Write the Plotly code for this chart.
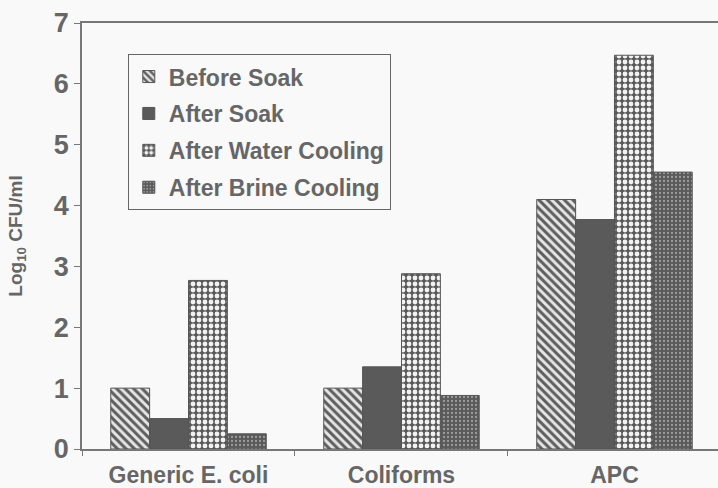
import plotly.graph_objects as go

categories = ["Generic E. coli", "Coliforms", "APC"]
series_names = ["Before Soak", "After Soak", "After Water Cooling", "After Brine Cooling"]
before_soak = [1.0, 1.0, 4.1]
after_soak = [0.5, 1.35, 3.77]
after_water = [2.77, 2.88, 6.47]
after_brine = [0.25, 0.88, 4.55]
y_ticks = [0, 1, 2, 3, 4, 5, 6, 7]

values = [before_soak, after_soak, after_water, after_brine]
patterns = [
    dict(shape="\\", fgcolor="#5e5e5e", bgcolor="#e6e6e6", size=6, solidity=0.5, fillmode="replace"),
    dict(shape="", fgcolor="#5a5a5a", bgcolor="#5a5a5a"),
    dict(shape=".", fgcolor="#f2f2f2", bgcolor="#5a5a5a", size=6, solidity=0.5, fillmode="replace"),
    dict(shape=".", fgcolor="#9c9c9c", bgcolor="#5a5a5a", size=4, solidity=0.25, fillmode="replace"),
]
colors = ["#e6e6e6", "#5a5a5a", "#5a5a5a", "#5a5a5a"]

fig = go.Figure()
for i, (name, vals) in enumerate(zip(series_names, values)):
    fig.add_trace(go.Bar(
        x=categories, y=vals, name=name,
        legendgroup=name,
        marker=dict(color=colors[i], pattern=patterns[i], line=dict(color="#555555", width=1)),
    ))

font_family = "Liberation Sans, Arial, sans-serif"
fig.update_layout(
    width=718, height=488,
    margin=dict(l=82, r=0, t=23, b=39),
    paper_bgcolor="#f9f9f9", plot_bgcolor="#f9f9f9",
    barmode="group", bargap=0.27, bargroupgap=0,
    font=dict(family=font_family, color="#666666"),
    showlegend=True,
    legend=dict(
        x=0.072, y=0.927, xanchor="left", yanchor="top",
        bgcolor="#f9f9f9", bordercolor="#666666", borderwidth=1,
        font=dict(size=23, family=font_family, color="#666666", weight="bold"),
        traceorder="grouped", tracegroupgap=4, itemwidth=30,
    ),
    xaxis=dict(
        range=[-0.5, 2.486], showline=True, linecolor="#777777", linewidth=1.5,
        mirror=True, ticks="outside", tickson="boundaries", ticklen=5,
        tickcolor="#777777", showgrid=False, automargin=False, ticklabelstandoff=5,
        tickfont=dict(size=23, family=font_family, color="#666666", weight="bold"),
    ),
    yaxis=dict(
        range=[0, 7], tickvals=y_ticks, showline=True, linecolor="#777777", linewidth=1.5,
        ticks="outside", ticklen=6, tickcolor="#777777", showgrid=False, zeroline=False,
        automargin=False,
        tickfont=dict(size=27, family=font_family, color="#666666", weight="bold"),
        title=dict(text="Log<sub>10</sub> CFU/ml", standoff=26,
                   font=dict(size=19, family=font_family, color="#666666", weight="bold")),
    ),
)

fig.write_html(
    "out.html",
    config={"displayModeBar": False},
    post_script="document.body.style.margin='0';document.body.style.background='#f9f9f9';",
)
